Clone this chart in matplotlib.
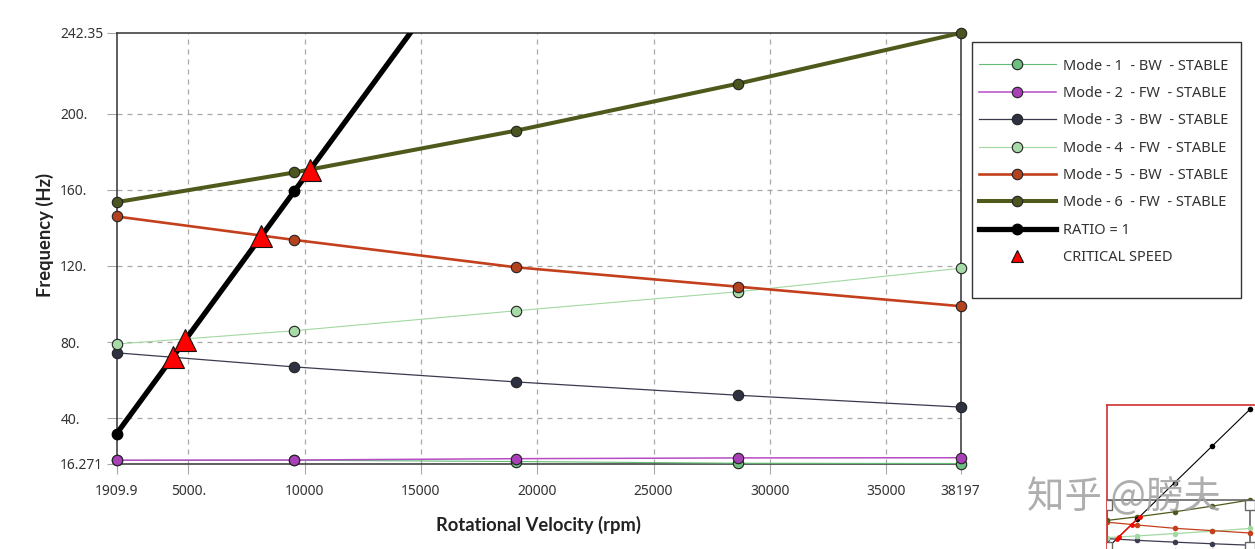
import numpy as np
import matplotlib
matplotlib.use('Agg')
import matplotlib.pyplot as plt
from matplotlib.lines import Line2D
from matplotlib.patches import Rectangle

plt.rcParams['font.family'] = ['Noto Sans', 'DejaVu Sans']

# rotor speeds (rpm) where the modes were solved
rpm = [1909.9, 9549.3, 19099.0, 28648.0, 38197.0]

# whirl frequencies (Hz)
mode1_bw = [17.9, 18.0, 17.3, 16.4, 16.271]
mode2_fw = [18.0, 18.1, 18.8, 19.2, 19.3]
mode3_bw = [74.4, 67.0, 59.1, 52.1, 45.9]
mode4_fw = [79.0, 86.0, 96.5, 106.5, 118.8]
mode5_bw = [146.0, 133.7, 119.3, 109.1, 98.9]
mode6_fw = [153.5, 169.1, 191.1, 215.8, 242.35]
ratio_1 = [31.83, 159.16, 318.32, 477.47, 636.62]

# critical speeds (ratio line crossing modes 3-6)
crit_rpm = [4331.0, 4858.0, 8144.0, 10210.0]
crit_hz = [72.2, 81.0, 135.7, 170.2]

x_ticks = [1909.9, 5000, 10000, 15000, 20000, 25000, 30000, 35000, 38197]
x_ticklabels = ['1909.9', '5000.', '10000', '15000', '20000', '25000', '30000', '35000', '38197']
y_ticks = [16.271, 40, 80, 120, 160, 200, 242.35]
y_ticklabels = ['16.271', '40.', '80.', '120.', '160.', '200.', '242.35']

mode_labels = ['Mode - 1  - BW  - STABLE', 'Mode - 2  - FW  - STABLE',
               'Mode - 3  - BW  - STABLE', 'Mode - 4  - FW  - STABLE',
               'Mode - 5  - BW  - STABLE', 'Mode - 6  - FW  - STABLE']
modes = [mode1_bw, mode2_fw, mode3_bw, mode4_fw, mode5_bw, mode6_fw]
# (line colour, marker face, line width)
styles = [('#62bd76', '#6dbf80', 0.8),
          ('#b64cc6', '#a940b8', 1.1),
          ('#3b3b50', '#2e3142', 0.9),
          ('#a2d9a2', '#a6dba8', 0.8),
          ('#c4401c', '#b5421e', 1.9),
          ('#4e5a1c', '#4a5520', 2.9)]

W, H = 1255, 549
fig = plt.figure(figsize=(W / 100, H / 100), dpi=100)
ax = fig.add_axes([116.5 / W, 1 - 463.5 / H, 844 / W, 430.5 / H])

handles = []
for vals, lab, (lc, mf, lw) in zip(modes, mode_labels, styles):
    h, = ax.plot(rpm, vals, color=lc, lw=lw, marker='o', ms=7.5, mfc=mf,
                 mec='#222222', mew=0.8, clip_on=False, label=lab, zorder=3)
    handles.append(h)

ymax = y_ticks[-1]
ax.plot(rpm, ratio_1, color='black', lw=3.8, zorder=4)
vis = [(r, v) for r, v in zip(rpm, ratio_1) if v <= ymax]
ax.plot([p[0] for p in vis], [p[1] for p in vis], ls='none', marker='o', ms=7.5,
        mfc='black', mec='black', clip_on=False, zorder=4)
ax.plot(crit_rpm, crit_hz, ls='none', marker='^', ms=16, mfc='#ff0000',
        mec='#111111', mew=0.8, zorder=6, clip_on=False)

handles.append(Line2D([], [], color='black', lw=3.8, marker='o', ms=7.5,
                      mfc='black', mec='black', label='RATIO = 1'))
handles.append(Line2D([], [], ls='none', marker='^', ms=9, mfc='#ff0000',
                      mec='#111111', mew=0.8, label='CRITICAL SPEED'))

ax.set_xlim(x_ticks[0], x_ticks[-1])
ax.set_ylim(y_ticks[0], y_ticks[-1])
ax.set_xticks(x_ticks, x_ticklabels)
ax.set_yticks(y_ticks, y_ticklabels)
ax.grid(True, color='#a8a8a8', ls=(0, (4, 4)), lw=0.9)
for gl in (ax.xaxis.get_gridlines()[0], ax.xaxis.get_gridlines()[-1],
           ax.yaxis.get_gridlines()[0], ax.yaxis.get_gridlines()[-1]):
    gl.set_visible(False)
ax.set_axisbelow(True)
ax.tick_params(axis='both', colors='#a8a8a8', labelcolor='#333333', labelsize=10)
ax.tick_params(axis='x', length=7, pad=8)
ax.tick_params(axis='y', length=7, pad=33.5)
for t in ax.get_yticklabels():
    t.set_horizontalalignment('left')
for s in ax.spines.values():
    s.set_color('#333333')
    s.set_linewidth(1.1)
    s.set_zorder(2.6)

ax.set_xlabel('Rotational Velocity (rpm)', family=['Lato', 'DejaVu Sans'], fontsize=13.2,
              fontweight='bold', color='#222222', va='center')
ax.xaxis.set_label_coords(0.5, -(525 - 463.5) / 430.5)
ax.set_ylabel('Frequency (Hz)', family=['Lato', 'DejaVu Sans'], fontsize=13.2,
              fontweight='bold', color='#222222', va='center')
ax.yaxis.set_label_coords(-(116.5 - 45) / 844, (463.5 - 235) / 430.5)

leg = ax.legend(handles=handles, loc='upper left', frameon=False,
                bbox_to_anchor=(979 / W, 1 - 58.5 / H), bbox_transform=fig.transFigure,
                borderpad=0, borderaxespad=0, fontsize=10.5, handlelength=5.27,
                handletextpad=0.48, labelspacing=0.85, labelcolor='#333333')
fig.add_artist(Rectangle((972 / W, 1 - 298 / H), (1241 - 972) / W, (298 - 42) / H,
                         transform=fig.transFigure, fill=False,
                         edgecolor='#333333', lw=1.0))

# overview thumbnail in the lower right corner (partly cut off)
mini = fig.add_axes([1107 / W, 0, 148 / W, 144 / H])
mx0, mx1 = x_ticks[0], 39473
my0, my1 = 29.3, 655.4
for vals, (lc, mf, lw) in zip(modes, styles):
    mini.plot(rpm, vals, color=lc, lw=0.9, marker='o', ms=4, mfc=lc, mew=0)
mini.plot(rpm, ratio_1, color='black', lw=0.8, marker='o', ms=4, mew=0)
mini.plot(crit_rpm, crit_hz, color='#ff0000', lw=0.9, marker='o', ms=3.5, mew=0)
mini.add_patch(Rectangle((x_ticks[0], y_ticks[0]), x_ticks[-1] - x_ticks[0],
                         y_ticks[-1] - y_ticks[0], fill=False,
                         edgecolor='#666666', lw=1.2))
hw = 10 / 148 * (mx1 - mx0)
hh = 10 / 144 * (my1 - my0)
for cx in (x_ticks[0], x_ticks[-1]):
    for cy, dy in ((y_ticks[-1], -hh), (y_ticks[0], 0)):
        mini.add_patch(Rectangle((cx - hw / 2, cy + dy), hw, hh, facecolor='white',
                                 edgecolor='#666666', lw=1.0, zorder=5))
mini.set_xlim(mx0, mx1)
mini.set_ylim(my0, my1)
mini.set_xticks([])
mini.set_yticks([])
for side in ('right', 'bottom'):
    mini.spines[side].set_visible(False)
for side in ('top', 'left'):
    mini.spines[side].set_color('#d03030')
    mini.spines[side].set_linewidth(1.2)

fig.text(1027 / W, 1 - 498 / H, '知乎 @膀夫', family=['Noto Sans CJK SC', 'DejaVu Sans'],
         fontsize=27, color='#a0a0a0', alpha=0.85, ha='left', va='center', zorder=10)

fig.savefig('out.png', dpi=100)
